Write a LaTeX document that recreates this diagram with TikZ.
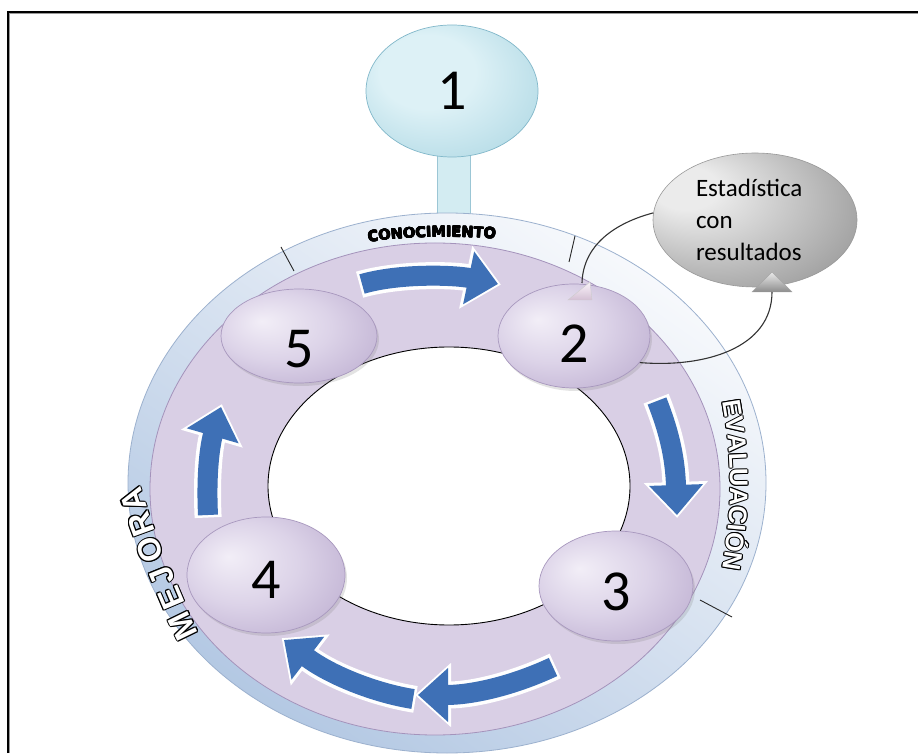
\documentclass[tikz,border=0pt]{standalone}
\usepackage{fontspec}
\setmainfont{Carlito}
\newfontfamily\heavyfont{DejaVu Sans}
\newfontfamily\outfont{Liberation Sans}
\usetikzlibrary{arrows.meta,decorations.text,shapes.geometric,shadows}

\definecolor{bandlight}{HTML}{F7F9FC}
\definecolor{banddark}{HTML}{B3C8E3}
\definecolor{bandedge}{HTML}{9CB1CE}
\definecolor{ringin}{HTML}{D9CFE5}
\definecolor{ringout}{HTML}{BAA9CF}
\definecolor{ringedge}{HTML}{A493BB}
\definecolor{bubin}{HTML}{F2EEF7}
\definecolor{bubmid}{HTML}{DCD3E8}
\definecolor{bubout}{HTML}{AE9CC5}
\definecolor{bubedge}{HTML}{A898BE}
\definecolor{cyin}{HTML}{DDF1F6}
\definecolor{cyout}{HTML}{93C9D9}
\definecolor{cyedge}{HTML}{82B8CA}
\definecolor{stemfill}{HTML}{D3ECF2}
\definecolor{grayin}{HTML}{EBEBEB}
\definecolor{grayout}{HTML}{707070}
\definecolor{arrowblue}{HTML}{3E70B6}

\pgfdeclareradialshading{ringshade}{\pgfpoint{0bp}{0bp}}{color(0bp)=(ringin); color(41bp)=(ringin); color(50bp)=(ringout)}
\pgfdeclareradialshading{bubshade}{\pgfpoint{-12bp}{8bp}}{color(0bp)=(bubin); color(18bp)=(bubmid); color(46bp)=(bubout); color(50bp)=(bubout)}
\pgfdeclareradialshading{cyshade}{\pgfpoint{-10bp}{10bp}}{color(0bp)=(cyin); color(14bp)=(cyin); color(50bp)=(cyout)}
\pgfdeclareradialshading{statshade}{\pgfpoint{-20bp}{14bp}}{color(0bp)=(grayin); color(8bp)=(grayin); color(52bp)=(grayout)}

% letters set along a path, drawn over copies of themselves shifted
% round a small circle: a rim of colour #4 around a fill of colour #5
\newcommand\rimword[6]{%
  \foreach \ox/\oy in {1/0,-1/0,0/1,0/-1,.7/.7,-.7/.7,.7/-.7,-.7/-.7}{%
    \path[xshift=#6*\ox pt,yshift=#6*\oy pt,decorate,decoration={text along path,text align=center,text={|#2\color{#4}|#3}}] #1;}%
  \path[decorate,decoration={text along path,text align=center,text={|#2\color{#5}|#3}}] #1;}

% one white letter with a black rim
\newcommand\rimchar[1]{%
  \rlap{\color{black}\kern-1.1pt#1}\rlap{\color{black}\kern1.1pt#1}%
  \rlap{\color{black}\raisebox{1.1pt}{#1}}\rlap{\color{black}\raisebox{-1.1pt}{#1}}%
  \rlap{\color{black}\kern-.8pt\raisebox{.8pt}{#1}}\rlap{\color{black}\kern.8pt\raisebox{.8pt}{#1}}%
  \rlap{\color{black}\kern-.8pt\raisebox{-.8pt}{#1}}\rlap{\color{black}\kern.8pt\raisebox{-.8pt}{#1}}%
  {\color{white}#1}}

% a thick curved arrow with a white rim
\newcommand\flowarrow[1]{\draw[flowrim] #1; \draw[flowbody] #1;}

\begin{document}
\begin{tikzpicture}[x=1pt,y=1pt,
  bubble/.style={ellipse,shade,shading=bubshade,draw=bubedge,line width=.7pt,inner sep=0pt,
    drop shadow={opacity=.22,shadow xshift=2pt,shadow yshift=-3pt}},
  numlbl/.style={font=\fontsize{58}{58}\selectfont},
  topbubble/.style={ellipse,shade,shading=cyshade,draw=cyedge,line width=.7pt,inner sep=0pt,
    minimum width=172pt,minimum height=132pt},
  stem/.style={rectangle,fill=stemfill,draw=cyedge!80,line width=.7pt,minimum width=33pt,minimum height=70pt,inner sep=0pt},
  statbubble/.style={ellipse,shade,shading=statshade,draw=gray!80,line width=.6pt,inner sep=0pt,
    minimum width=204pt,minimum height=134pt,align=left,text width=118pt,font=\fontsize{25}{32}\selectfont},
  flowrim/.style={white,line width=27pt,-{Triangle[width=62pt,length=36pt]},shorten >=-3pt,shorten <=-2.5pt},
  flowbody/.style={arrowblue,line width=20pt,-{Triangle[width=52pt,length=30pt]}},
  tick/.style={black!85,line width=.9pt},
  conn/.style={black!80,line width=1.1pt},
  letter/.style={inner sep=0pt,font=\outfont\bfseries\fontsize{32}{32}\selectfont},
]
\useasboundingbox (0,0) rectangle (918,753);
\fill[white] (0,0) rectangle (918,753);

% frame
\draw[line width=1.6pt] (8,0) -- (8,741) -- (918,741);
\draw[black!40,line width=.8pt] (9.7,0) -- (9.7,739.3) -- (918,739.3);

% stem and top bubble
\node[stem] (stem) at (453.5,570) {};
\node[topbubble,label={[numlbl]center:1}] (c1) at (452,662) {};

% outer band and purple ring
\shade[top color=bandlight,bottom color=banddark,shading angle=-35] (447,270) ellipse [x radius=319,y radius=270];
\draw[bandedge,line width=.8pt] (447,270) ellipse [x radius=319,y radius=270];
\shade[shading=ringshade] (435,264) ellipse [x radius=285,y radius=246];
\draw[ringedge,line width=.8pt] (435,264) ellipse [x radius=285,y radius=246];

% section ticks on the band
\draw[tick] (281,506) -- (294,482);
\draw[tick] (575,517) -- (569,491);
\draw[tick] (700,153) -- (732,136);

% inner hole
\filldraw[fill=white,draw=black,line width=.9pt] (449,267) ellipse [x radius=181,y radius=139];

% flow arrows
\coordinate (a1s) at (362,469); \coordinate (a1e) at (498,469);
\coordinate (a2s) at (657,352); \coordinate (a2e) at (677,238);
\coordinate (a3s) at (553,86);  \coordinate (a3e) at (418,58);
\coordinate (a4s) at (413,54);  \coordinate (a4e) at (284,113);
\coordinate (a5s) at (208,238); \coordinate (a5e) at (221,346);
\flowarrow{(a1s) .. controls (400,480) and (455,478) .. (a1e)}
\flowarrow{(a2s) .. controls (668,324) and (675,298) .. (a2e)}
\flowarrow{(a4s) .. controls (375,60) and (330,78) .. (a4e)}
\flowarrow{(a3s) .. controls (510,66) and (470,58) .. (a3e)}
\flowarrow{(a5s) .. controls (206,280) and (210,308) .. (a5e)}

% numbered steps
\node[bubble,minimum width=156pt,minimum height=94pt,label={[numlbl,yshift=-13pt]center:5}] (c5) at (299,417) {};
\node[bubble,minimum width=152pt,minimum height=104pt,label={[numlbl,yshift=-8pt]center:2}] (c2) at (574,417) {};
\node[bubble,minimum width=154pt,minimum height=110pt,label={[numlbl,yshift=-6pt]center:3}] (c3) at (616,167) {};
\node[bubble,minimum width=158pt,minimum height=116pt,label={[numlbl,yshift=-5pt]center:4}] (c4) at (266,178) {};

% band captions
\rimword{([shift={(447,270)}]132:400 and 246) arc[start angle=132,end angle=53,x radius=400,y radius=246]}
  {\heavyfont\bfseries\fontsize{14.5}{14.5}\selectfont}{CONOCIMIENTO}{black}{black}{.35}
\rimword{([shift={(261,268)}]30:469) arc[start angle=30,end angle=-30,radius=469]}
  {\outfont\bfseries\fontsize{25.5}{25.5}\selectfont}{EVALUACIÓN}{black}{white}{1}
\foreach \ch/\px/\py/\rot in {M/183/127/116, E/171/155/113, J/162/177/112, O/150/203/111, R/141/229/110, A/133/253/108}
  \node[letter,rotate=\rot] at (\px,\py) {\rimchar{\ch}};

% statistics callout
\node[statbubble] (stat) at (755,533) {Estadística\\con\\resultados};
\coordinate (t1) at (582,470);
\shade[top color=white!85!violet!30,bottom color=black!35!violet!25,draw=black!20] (568,453) -- (592,453) -- (590,471) -- cycle;
\coordinate (t2) at (772,461);
\shade[top color=black!8,bottom color=black!45,draw=black!35] (752,461) -- (792,461) -- (772,481) -- cycle;
\draw[conn] (stat.176) .. controls (615,530) and (583,508) .. (t1);
\draw[conn] (c2.-22) .. controls (705,385) and (772,405) .. (t2);
\end{tikzpicture}
\end{document}
